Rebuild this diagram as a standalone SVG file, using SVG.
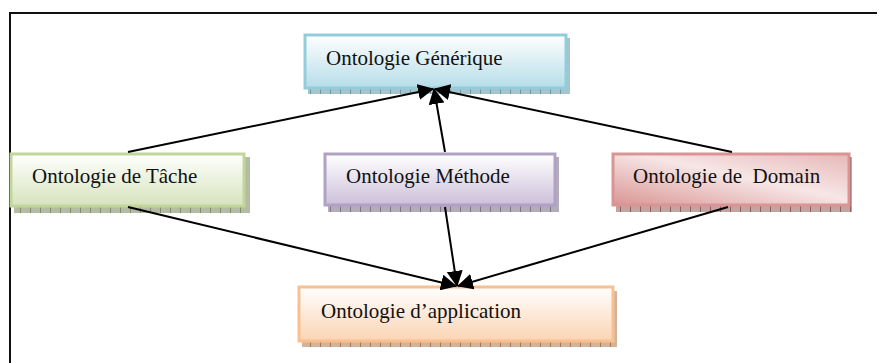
<svg xmlns="http://www.w3.org/2000/svg" width="879" height="363" viewBox="0 0 879 363">
<defs>
<linearGradient id="gBlue" x1="0" y1="0" x2="0" y2="1"><stop offset="0" stop-color="#ffffff"/><stop offset="1" stop-color="#b6dde8"/></linearGradient>
<linearGradient id="gGreen" x1="0" y1="0" x2="0" y2="1"><stop offset="0" stop-color="#ffffff"/><stop offset="1" stop-color="#d6e3bc"/></linearGradient>
<linearGradient id="gPurple" x1="0" y1="0" x2="0" y2="1"><stop offset="0" stop-color="#ffffff"/><stop offset="1" stop-color="#ccc0d9"/></linearGradient>
<linearGradient id="gRed" x1="0" y1="1" x2="1" y2="0"><stop offset="0" stop-color="#d99594"/><stop offset="0.55" stop-color="#f7e6e6"/><stop offset="1" stop-color="#e5b8b7"/></linearGradient>
<linearGradient id="gOrange" x1="0" y1="0" x2="0" y2="1"><stop offset="0" stop-color="#ffffff"/><stop offset="1" stop-color="#fbd4b4"/></linearGradient>
<pattern id="pBlue" width="10" height="6" patternUnits="userSpaceOnUse"><rect width="10" height="6" fill="#a9c3cb"/><rect width="1" height="6" fill="#6f98a4"/></pattern>
<pattern id="pGreen" width="10" height="6" patternUnits="userSpaceOnUse"><rect width="10" height="6" fill="#b4bda3"/><rect width="1" height="6" fill="#7f8c64"/></pattern>
<pattern id="pPurple" width="10" height="6" patternUnits="userSpaceOnUse"><rect width="10" height="6" fill="#b3adba"/><rect width="1" height="6" fill="#7c7388"/></pattern>
<pattern id="pRed" width="10" height="6" patternUnits="userSpaceOnUse"><rect width="10" height="6" fill="#c4a3a3"/><rect width="1" height="6" fill="#8e5e5e"/></pattern>
<pattern id="pOrange" width="10" height="6" patternUnits="userSpaceOnUse"><rect width="10" height="6" fill="#d2b49d"/><rect width="1" height="6" fill="#a7774f"/></pattern>
<marker id="arr" markerWidth="16" markerHeight="16" refX="15" refY="8" orient="auto" markerUnits="userSpaceOnUse"><path d="M0,0 L16,8 L0,16 Z" fill="#000"/></marker>
</defs>
<style>
.lbl{font-family:"Liberation Serif","Times New Roman",serif;font-size:21px;fill:#111}
.box{stroke-width:3}
.conn{stroke:#000;stroke-width:2;fill:none;marker-end:url(#arr)}
</style>
<rect x="0" y="0" width="879" height="363" fill="#fff"/>
<path d="M10,363 L10,13 L877,13" fill="none" stroke="#111" stroke-width="2"/>

<g id="generique">
<rect x="308" y="38" width="262" height="56" fill="url(#pBlue)"/>
<rect class="box" x="305" y="35" width="261" height="53" fill="url(#gBlue)" stroke="#92cddc"/>
<text class="lbl" x="326" y="65">Ontologie Générique</text>
</g>
<g id="tache">
<rect x="14" y="157" width="236" height="56" fill="url(#pGreen)"/>
<rect class="box" x="11" y="154" width="233" height="52" fill="url(#gGreen)" stroke="#c2d69b"/>
<text class="lbl" x="32" y="183">Ontologie de Tâche</text>
</g>
<g id="methode">
<rect x="328" y="157" width="231" height="55" fill="url(#pPurple)"/>
<rect class="box" x="325" y="154" width="230" height="51" fill="url(#gPurple)" stroke="#b2a1c7"/>
<text class="lbl" x="346" y="183">Ontologie Méthode</text>
</g>
<g id="domain">
<rect x="616" y="157" width="236" height="55" fill="url(#pRed)"/>
<rect class="box" x="613" y="154" width="236" height="51" fill="url(#gRed)" stroke="#d99594"/>
<text class="lbl" x="633" y="183" xml:space="preserve">Ontologie de  Domain</text>
</g>
<g id="application">
<rect x="302" y="291" width="315" height="56" fill="url(#pOrange)"/>
<rect class="box" x="299" y="287" width="314" height="54" fill="url(#gOrange)" stroke="#fabf8f"/>
<text class="lbl" x="321" y="318">Ontologie d’application</text>
</g>

<g id="connectors">
<line class="conn" x1="128" y1="152" x2="433" y2="89"/>
<line class="conn" x1="445" y1="152" x2="434" y2="89"/>
<line class="conn" x1="732" y1="152" x2="435" y2="89"/>
<line class="conn" x1="128" y1="207" x2="456" y2="286"/>
<line class="conn" x1="445" y1="207" x2="457" y2="286"/>
<line class="conn" x1="728" y1="207" x2="458" y2="286"/>
</g>
</svg>
